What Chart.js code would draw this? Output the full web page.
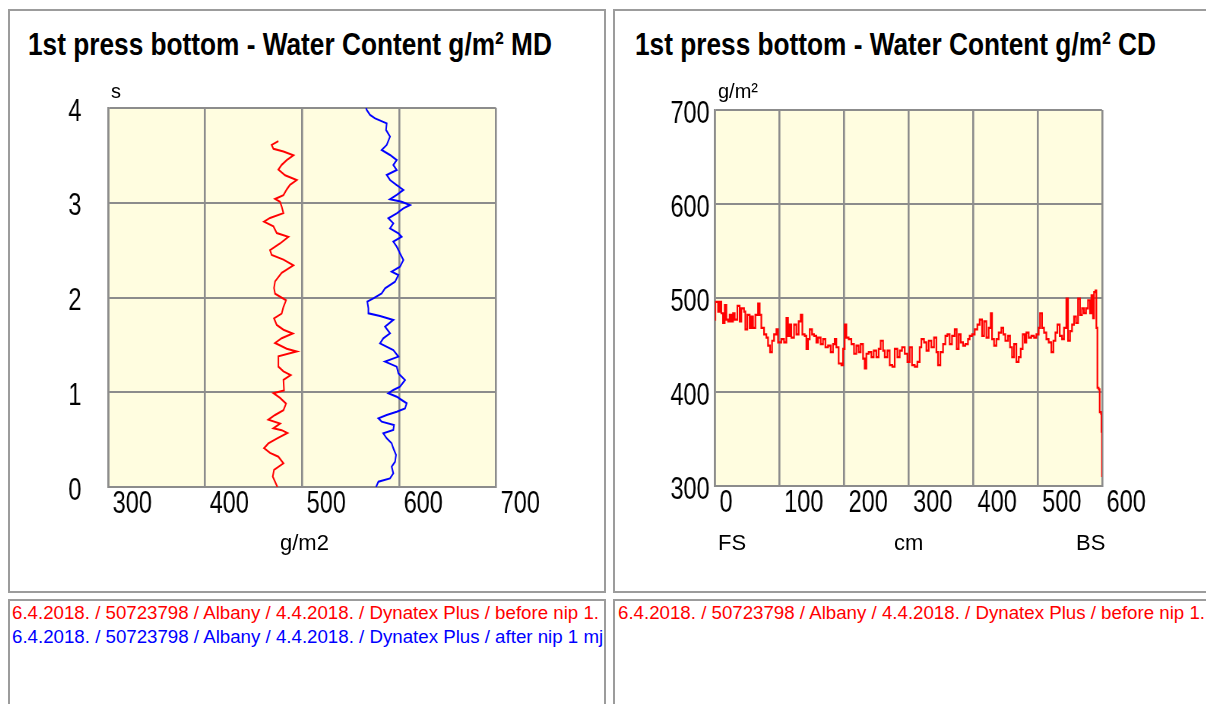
<!DOCTYPE html>
<html>
<head>
<meta charset="utf-8">
<script src="https://cdn.jsdelivr.net/npm/chart.js@4.4.1/dist/chart.umd.min.js"></script>
<style>
html,body{margin:0;padding:0;background:#fff;width:1206px;height:704px;overflow:hidden;font-family:Arial,"Liberation Sans",sans-serif;}
.panel{position:absolute;border:2px solid #9c9c9c;box-sizing:border-box;background:#fff;}
.cv{position:absolute;transform-origin:0 0;transform:scaleX(0.76);}
.title{position:absolute;font-weight:bold;font-size:32px;line-height:32px;white-space:nowrap;transform-origin:0 0;transform:scaleX(0.82);color:#000;}
.unit{position:absolute;font-size:20px;line-height:20px;white-space:nowrap;color:#000;}
.lbl{position:absolute;font-size:22px;line-height:22px;white-space:nowrap;color:#000;}
.leg{position:absolute;overflow:hidden;white-space:nowrap;font-size:18.7px;line-height:24px;border:2px solid #9c9c9c;box-sizing:border-box;background:#fff;}
.leg div{height:24px;}
</style>
</head>
<body>
<div class="panel" style="left:8px;top:9px;width:598px;height:584px;"></div>
<div class="panel" style="left:613px;top:9px;width:600px;height:584px;"></div>

<div class="title" style="left:28px;top:28px;">1st press bottom - Water Content g/m² MD</div>
<div class="title" style="left:635px;top:28px;">1st press bottom - Water Content g/m² CD</div>

<div class="cv" style="left:10px;top:11px;"><canvas id="md" width="782" height="579"></canvas></div>
<div class="cv" style="left:615px;top:11px;"><canvas id="cd" width="775" height="579"></canvas></div>

<div class="unit" style="left:111px;top:81px;">s</div>
<div class="unit" style="left:718px;top:81px;">g/m²</div>
<div class="lbl" style="left:280px;top:532px;">g/m2</div>
<div class="lbl" style="left:718px;top:532px;">FS</div>
<div class="lbl" style="left:894px;top:532px;">cm</div>
<div class="lbl" style="left:1076px;top:532px;">BS</div>

<div class="leg" style="left:8px;top:599px;width:598px;height:110px;padding-left:2px;">
  <div style="color:#ff0000;">6.4.2018. / 50723798 / Albany / 4.4.2018. / Dynatex Plus / before nip 1.</div>
  <div style="color:#0000ff;">6.4.2018. / 50723798 / Albany / 4.4.2018. / Dynatex Plus / after nip 1 mj</div>
</div>
<div class="leg" style="left:613px;top:599px;width:600px;height:110px;padding-left:3px;">
  <div style="color:#ff0000;">6.4.2018. / 50723798 / Albany / 4.4.2018. / Dynatex Plus / before nip 1.</div>
</div>

<script>
// ---- MD chart data (time in s vs water content g/m2) ----
const mdBeforeTime = [0.00,0.11,0.18,0.25,0.32,0.36,0.41,0.46,0.51,0.57,0.60,0.62,0.67,0.71,0.76,0.81,0.88,0.94,0.99,1.02,1.13,1.18,1.22,1.27,1.38,1.43,1.46,1.52,1.57,1.62,1.66,1.71,1.78,1.83,1.90,1.97,2.04,2.10,2.17,2.26,2.34,2.40,2.45,2.50,2.57,2.64,2.68,2.75,2.80,2.84,2.89,2.96,3.01,3.04,3.08,3.14,3.19,3.24,3.29,3.35,3.40,3.45,3.50,3.54,3.57,3.61,3.65];
const mdBeforeWater = [474.6,469.8,471.1,480.8,475.6,467.0,460.8,465.3,473.9,484.9,479.0,470.5,477.3,465.3,472.2,480.8,483.5,477.3,470.5,481.4,480.8,488.3,480.8,475.6,475.6,494.5,484.2,472.2,479.0,490.4,480.8,473.9,471.1,479.0,480.8,483.5,472.2,471.1,472.2,479.0,491.1,480.8,468.7,467.0,477.3,485.9,473.9,470.5,460.8,467.0,480.8,479.0,477.3,472.2,480.8,484.2,487.6,494.5,482.5,475.6,479.0,484.2,491.1,480.8,470.5,468.7,475.6];

const mdAfterTime = [0.00,0.056,0.091,0.144,0.215,0.267,0.338,0.408,0.461,0.514,0.566,0.602,0.654,0.690,0.725,0.760,0.795,0.830,0.883,0.918,0.953,0.989,1.024,1.059,1.129,1.200,1.270,1.323,1.376,1.446,1.516,1.569,1.622,1.692,1.763,1.805,1.833,1.886,1.956,1.991,2.044,2.097,2.167,2.237,2.273,2.325,2.396,2.466,2.537,2.589,2.642,2.677,2.730,2.783,2.836,2.888,2.941,2.976,3.011,3.036,3.082,3.135,3.187,3.240,3.293,3.346,3.398,3.451,3.504,3.557,3.610,3.697,3.768,3.838,3.891,3.926,3.979,4.00];
const mdAfterWater = [576.3,578.7,590.7,594.1,592.4,595.9,596.9,594.1,592.4,587.3,583.8,594.1,594.8,582.1,578.7,587.3,597.6,606.2,607.9,602.7,597.6,589.0,594.1,601.0,606.2,599.3,597.6,585.6,599.3,594.1,580.4,583.8,590.7,585.6,594.1,580.4,568.4,568.4,567.3,573.5,582.1,585.6,595.9,599.3,592.4,601.0,604.5,601.0,597.6,594.1,602.7,599.3,590.7,594.1,589.0,597.6,604.5,611.3,602.7,590.7,597.6,604.5,597.6,590.7,587.3,597.6,594.1,597.6,590.7,582.1,587.3,590.7,586.6,587.3,575.3,570.1,566.7,566.0];

// ---- CD chart data (position in cm vs water content g/m²) ----
const cdPos = [0,0.5,4.7,7.2,9.8,12.4,15.0,17.6,20.2,22.7,
  25.3,27.9,30.5,34.6,38.2,40.8,45.0,47.0,50.1,53.7,
  56.3,58.9,62.5,66.7,69.3,71.8,76.0,79.6,82.2,85.3,
  88.4,91.5,95.1,97.7,102.8,107.0,110.6,113.2,115.8,118.3,
  122.5,126.1,129.7,132.8,135.4,139.0,141.6,144.2,146.8,150.4,
  153.5,157.1,159.7,163.8,167.4,171.1,175.2,179.3,182.9,185.5,
  188.1,191.7,195.9,198.5,201.0,203.6,207.2,211.4,215.5,219.1,
  222.7,225.8,229.5,232.0,234.6,238.2,242.4,246.0,250.1,253.7,
  256.8,260.5,263.1,267.2,270.8,274.9,278.6,282.7,286.3,289.9,
  294.1,298.2,301.8,305.4,309.6,313.7,317.3,319.9,324.0,327.7,
  331.3,335.4,339.5,343.2,345.7,349.4,353.5,357.1,360.2,363.8,
  367.4,371.6,374.7,377.8,380.9,384.5,388.1,392.2,394.8,398.5,
  402.6,406.7,410.3,414.0,417.1,420.7,424.3,427.4,429.5,432.6,
  436.2,439.8,443.9,447.0,450.1,454.3,457.4,460.5,463.6,467.2,
  470.8,473.9,477.0,480.1,482.7,486.3,490.4,494.6,498.2,501.8,
  503.9,507.0,510.1,513.7,517.3,521.4,524.6,527.7,530.8,534.4,
  538.0,541.1,544.7,547.3,550.4,553.5,556.6,559.7,562.8,565.9,
  569.0,572.1,575.2,578.3,581.4,583.5,586.0,587.6,589.7,591.2,
  592.8,594.8,596.4,598.5,599.2,600.0];
const cdWater = [476.9,495.9,485.5,495.9,483.8,473.4,492.4,476.9,475.2,482.1,
  475.2,483.8,476.9,491.7,475.2,489.0,485.5,466.6,482.1,468.3,
  480.3,468.3,482.1,494.1,482.1,468.3,461.4,457.9,449.3,442.4,
  454.5,461.4,466.6,452.8,456.2,452.8,478.6,459.7,471.7,457.9,
  471.7,461.4,475.2,482.1,461.4,459.7,445.9,456.2,466.6,461.4,
  459.7,452.8,457.9,451.0,456.2,447.6,449.3,442.4,451.0,456.2,
  447.6,430.3,428.6,445.9,471.7,457.9,456.2,451.0,440.7,449.3,
  442.4,451.0,435.5,425.2,440.7,442.4,437.2,444.1,437.2,445.9,
  454.5,444.1,437.2,444.1,428.6,426.9,445.9,437.2,444.1,447.6,
  440.7,432.1,447.6,428.6,426.9,432.1,447.6,456.2,452.8,444.1,
  454.5,447.6,457.9,442.4,428.6,442.4,451.0,459.7,461.4,451.0,
  459.7,466.6,445.9,461.4,452.8,449.3,451.0,456.2,459.7,461.4,
  466.6,471.7,476.9,459.7,475.2,457.9,468.3,483.8,456.2,449.3,
  456.2,463.1,468.3,461.4,454.5,459.7,447.6,437.2,451.0,432.1,
  437.2,445.9,461.4,452.8,463.1,457.9,459.7,457.9,461.4,468.3,
  483.8,468.3,463.1,456.2,452.8,442.4,454.5,463.1,471.7,459.7,
  456.2,468.3,499.3,454.5,464.8,471.7,480.3,473.4,499.3,482.1,
  489.0,483.8,489.0,497.6,483.8,502.8,478.6,506.2,507.9,468.3,
  404.5,402.8,378.6,376.9,357.9,309.7];

// ---- axis settings ----
const mdTimeTicks = [0, 4, 1];      // min, max, step (s)
const mdWaterTicks = [300, 700, 100];
const cdPosTicks = [0, 600, 100];
const cdWaterTicks = [300, 700, 100];

const GRID = '#8c8c8c';
const tickFont = {family: 'Arial, "Liberation Sans", sans-serif', size: 31, lineHeight: 1};

const plotBg = {
  id: 'plotBg',
  beforeDraw(chart) {
    const {ctx, chartArea: a} = chart;
    ctx.save();
    ctx.fillStyle = '#FFFDE0';
    ctx.fillRect(a.left, a.top, a.right - a.left, a.bottom - a.top);
    ctx.restore();
  }
};

function xScale(t, offset) {
  return {
    type: 'linear', min: t[0], max: t[1],
    ticks: {stepSize: t[2], align: 'start', labelOffset: offset, padding: 2, font: tickFont, color: '#000'},
    grid: {color: GRID, lineWidth: 2.6, drawTicks: false},
    border: {color: GRID, width: 2},
    afterFit(s) { s.height = 60; }
  };
}
function yScale(t, pad) {
  return {
    type: 'linear', min: t[0], max: t[1],
    ticks: {stepSize: t[2], padding: pad, labelOffset: 4, font: tickFont, color: '#000'},
    grid: {color: GRID, lineWidth: 2, drawTicks: false},
    border: {color: GRID, width: 2.6},
    afterFit(s) { s.width = 100; }
  };
}
const common = {
  responsive: false, animation: false, devicePixelRatio: 1,
  plugins: {legend: {display: false}, tooltip: {enabled: false}, title: {display: false}},
  elements: {point: {radius: 0}, line: {tension: 0}}
};

new Chart(document.getElementById('md'), {
  type: 'scatter',
  data: {
    datasets: [
      {label: 'before nip 1.', data: mdBeforeTime.map((t, i) => ({x: mdBeforeWater[i], y: t})),
       showLine: true, borderColor: '#ff0000', borderWidth: 2, pointRadius: 0},
      {label: 'after nip 1', data: mdAfterTime.map((t, i) => ({x: mdAfterWater[i], y: t})),
       showLine: true, borderColor: '#0000ff', borderWidth: 2, pointRadius: 0}
    ]
  },
  options: Object.assign({}, common, {
    layout: {padding: {left: 29, right: 142.5, top: 97, bottom: 43}},
    scales: {x: xScale(mdWaterTicks, 6), y: yScale(mdTimeTicks, 35)}
  }),
  plugins: [plotBg]
});

new Chart(document.getElementById('cd'), {
  type: 'scatter',
  data: {
    datasets: [
      {label: 'before nip 1.', data: cdPos.map((p, i) => ({x: p, y: cdWater[i]})),
       showLine: true, stepped: true, borderColor: '#ff0000', borderWidth: 2.2, pointRadius: 0}
    ]
  },
  options: Object.assign({}, common, {
    layout: {padding: {left: 31.6, right: 134.2, top: 99, bottom: 44}},
    scales: {x: xScale(cdPosTicks, 6), y: yScale(cdWaterTicks, 7)}
  }),
  plugins: [plotBg]
});
</script>
</body>
</html>
